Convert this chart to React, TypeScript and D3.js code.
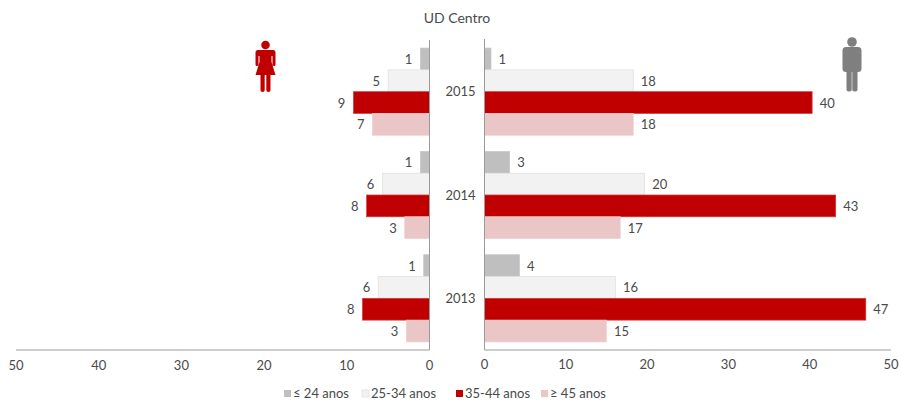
import React from "react";
import * as d3 from "d3";

const years = ["2015", "2014", "2013"];
const groups = ["≤ 24 anos", "25-34 anos", "35-44 anos", "≥ 45 anos"];
const colors = ["#bfbfbf", "#f2f2f2", "#c00000", "#ebc6c6"];
const strokes = ["#c6c6c6", "#dedede", "#d23a3a", "#eed0d0"];
const femaleValues = [
  [1.1, 5.0, 9.2, 6.9],
  [1.1, 5.7, 7.6, 3.0],
  [0.7, 6.2, 8.1, 2.8],
];
const femaleLabels = [
  [1, 5, 9, 7],
  [1, 6, 8, 3],
  [1, 6, 8, 3],
];
const maleValues = [
  [0.8, 18.3, 40.3, 18.3],
  [3.1, 19.7, 43.2, 16.7],
  [4.3, 16.1, 46.9, 15.0],
];
const maleLabels = [
  [1, 18, 40, 18],
  [3, 20, 43, 17],
  [4, 16, 47, 15],
];
const ticks = [0, 10, 20, 30, 40, 50];
const legendX = [284, 362, 456, 541];

const FONT = "Lato, sans-serif";
const TEXT = "#4a4a4a";
const AXIS = "#9a9a9a";

export default function App() {
  const top = 39;
  const bottom = 350;
  const xL = d3.scaleLinear().domain([0, 50]).range([429.5, 16]);
  const xR = d3.scaleLinear().domain([0, 50]).range([484.5, 891]);
  const y0 = d3.scaleBand<string>().domain(years).range([40, 350]);
  const y1 = d3.scaleBand<string>().domain(groups).range([0, y0.bandwidth()]).paddingOuter(0.37).paddingInner(0);

  return (
    <svg
      width={901}
      height={405}
      style={{ position: "absolute", left: 0, top: 0, fontFamily: FONT }}
    >
      <rect width={901} height={405} fill="#fff" />
      <text x={457} y={22.5} textAnchor="middle" fontSize={14} fill={TEXT}>UD Centro</text>

      {years.map((yr, i) => (
        <g key={yr}>
          {groups.map((g, j) => {
            const y = y0(yr)! + y1(g)!;
            const h = y1.bandwidth();
            const lx = xL(femaleValues[i][j]);
            const rx = xR(maleValues[i][j]);
            return (
              <g key={g}>
                <rect x={lx} y={y} width={xL(0) - lx} height={h} fill={colors[j]} stroke={strokes[j]} strokeWidth={0.7} />
                <rect x={xR(0)} y={y} width={rx - xR(0)} height={h} fill={colors[j]} stroke={strokes[j]} strokeWidth={0.7} />
                <text x={lx - 8} y={y + h / 2 + 5} textAnchor="end" fontSize={13} fill={TEXT}>{femaleLabels[i][j]}</text>
                <text x={rx + 7.5} y={y + h / 2 + 5} fontSize={13} fill={TEXT}>{maleLabels[i][j]}</text>
              </g>
            );
          })}
          <text x={460.5} y={y0(yr)! + y0.bandwidth() / 2 + 4.5} textAnchor="middle" fontSize={13} fill={TEXT}>{yr}</text>
        </g>
      ))}

      <path d={`M${xL(50)},${bottom}H${xL(0)}V${top + 1}`} fill="none" stroke={AXIS} strokeWidth={1} />
      <path d={`M${xR(0)},${top}V${bottom}H${xR(50)}`} fill="none" stroke={AXIS} strokeWidth={1} />

      {ticks.map((t) => (
        <g key={t}>
          <text x={xL(t)} y={370} textAnchor="middle" fontSize={13} fill={TEXT}>{t}</text>
          <text x={xR(t)} y={369} textAnchor="middle" fontSize={13} fill={TEXT}>{t}</text>
        </g>
      ))}

      {groups.map((g, j) => (
        <g key={g}>
          <rect x={legendX[j]} y={390} width={7} height={7} fill={colors[j]} stroke={j === 1 ? "#dedede" : "none"} strokeWidth={0.7} />
          <text x={legendX[j] + 9} y={398} fontSize={13} fill={TEXT}>{g}</text>
        </g>
      ))}

      {/* woman icon */}
      <g fill="#c00000">
        <circle cx={265.5} cy={45} r={4.3} />
        <path d="M258,50H273Q275.5,50 275.5,52.5V64.5Q275.5,66 274,66Q272.5,66 272.5,64.5V56H271.5V62L275.5,75H255.5L259.5,62V56H258.5V64.5Q258.5,66 257,66Q255.5,66 255.5,64.5V52.5Q255.5,50 258,50Z" />
        <rect x={260.5} y={72} width={4.2} height={20} rx={2} />
        <rect x={266.3} y={72} width={4.2} height={20} rx={2} />
      </g>
      {/* man icon */}
      <g fill="#7f7f7f">
        <circle cx={852} cy={42} r={4.8} />
        <rect x={842.5} y={47} width={19} height={25} rx={3.5} />
        <rect x={846.5} y={60} width={5.2} height={31.5} rx={2} />
        <rect x={852.3} y={60} width={5.2} height={31.5} rx={2} />
      </g>
    </svg>
  );
}
